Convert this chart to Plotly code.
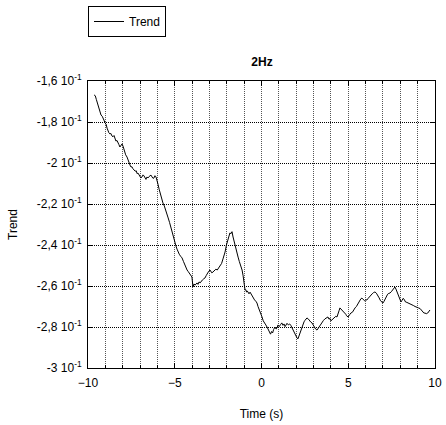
import plotly.graph_objects as go

time_s = [-9.65, -9.58, -9.52, -9.48, -9.42, -9.35, -9.30, -9.25, -9.18, -9.12, -9.06, -9.02,
          -8.96, -8.90, -8.85, -8.80, -8.74, -8.68, -8.62, -8.56, -8.50, -8.45, -8.39, -8.33,
          -8.27, -8.22, -8.16, -8.10, -8.04, -7.98, -7.93, -7.88, -7.83, -7.75, -7.70, -7.64,
          -7.58, -7.52, -7.47, -7.41, -7.35, -7.28, -7.22, -7.17, -7.12, -7.06, -7.00, -6.95,
          -6.89, -6.83, -6.77, -6.71, -6.66, -6.60, -6.54, -6.48, -6.42, -6.37, -6.31, -6.25,
          -6.20, -6.14, -6.08, -6.02, -5.96, -5.90, -5.85, -5.78, -5.72, -5.68, -5.60, -5.52,
          -5.45, -5.38, -5.30, -5.22, -5.15, -5.06, -4.99, -4.93, -4.87, -4.81, -4.74, -4.66,
          -4.58, -4.50, -4.42, -4.35, -4.29, -4.22, -4.15, -4.08, -4.01, -3.95, -3.89, -3.83,
          -3.77, -3.72, -3.66, -3.60, -3.54, -3.47, -3.40, -3.33, -3.26, -3.18, -3.10, -3.04,
          -2.97, -2.91, -2.86, -2.80, -2.72, -2.63, -2.55, -2.47, -2.39, -2.30, -2.22, -2.15,
          -2.10, -2.02, -1.95, -1.88, -1.82, -1.76, -1.70, -1.64, -1.56, -1.48, -1.42, -1.35,
          -1.28, -1.20, -1.12, -1.06, -1.00, -0.95, -0.90, -0.86, -0.82, -0.78, -0.72, -0.66,
          -0.60, -0.55, -0.48, -0.40, -0.33, -0.26, -0.20, -0.12, -0.05, 0.03, 0.10, 0.18,
          0.25, 0.32, 0.38, 0.45, 0.52, 0.58, 0.64, 0.70, 0.78, 0.84, 0.90, 0.95,
          1.02, 1.10, 1.17, 1.24, 1.30, 1.36, 1.42, 1.47, 1.55, 1.62, 1.69, 1.76,
          1.84, 1.92, 1.98, 2.05, 2.10, 2.14, 2.18, 2.22, 2.26, 2.30, 2.35, 2.39,
          2.45, 2.50, 2.56, 2.62, 2.69, 2.76, 2.84, 2.91, 2.98, 3.05, 3.12, 3.20,
          3.27, 3.35, 3.42, 3.49, 3.57, 3.66, 3.74, 3.83, 3.89, 3.95, 4.00, 4.06,
          4.13, 4.20, 4.28, 4.35, 4.40, 4.44, 4.48, 4.52, 4.58, 4.66, 4.73, 4.81,
          4.86, 4.90, 4.95, 4.99, 5.08, 5.15, 5.24, 5.32, 5.39, 5.47, 5.53, 5.58,
          5.66, 5.73, 5.79, 5.86, 5.94, 6.01, 6.08, 6.15, 6.22, 6.30, 6.38, 6.46,
          6.54, 6.62, 6.70, 6.78, 6.86, 6.93, 7.00, 7.06, 7.13, 7.20, 7.27, 7.34,
          7.41, 7.48, 7.55, 7.62, 7.69, 7.75, 7.82, 7.90, 7.97, 8.04, 8.10, 8.17,
          8.24, 8.30, 8.38, 8.47, 8.56, 8.65, 8.75, 8.85, 8.95, 9.05, 9.14, 9.22,
          9.30, 9.36, 9.42, 9.50, 9.58, 9.64, 9.71]

trend = [-0.1668, -0.1672, -0.1690, -0.1702, -0.1712, -0.1728, -0.1745, -0.1766, -0.1772, -0.1790, -0.1795, -0.1805,
         -0.1810, -0.1830, -0.1849, -0.1852, -0.1858, -0.1856, -0.1868, -0.1872, -0.1866, -0.1880, -0.1893, -0.1890,
         -0.1898, -0.1910, -0.1922, -0.1912, -0.1907, -0.1918, -0.1937, -0.1945, -0.1960, -0.1971, -0.1985, -0.1995,
         -0.2010, -0.2020, -0.2018, -0.2028, -0.2034, -0.2040, -0.2038, -0.2052, -0.2049, -0.2058, -0.2062, -0.2073,
         -0.2068, -0.2058, -0.2063, -0.2075, -0.2080, -0.2068, -0.2073, -0.2066, -0.2060, -0.2059, -0.2068, -0.2075,
         -0.2073, -0.2062, -0.2068, -0.2083, -0.2105, -0.2128, -0.2146, -0.2160, -0.2180, -0.2195, -0.2210, -0.2228,
         -0.2244, -0.2268, -0.2290, -0.2317, -0.2330, -0.2365, -0.2390, -0.2405, -0.2420, -0.2434, -0.2445, -0.2455,
         -0.2463, -0.2480, -0.2498, -0.2510, -0.2522, -0.2530, -0.2540, -0.2552, -0.2556, -0.2605, -0.2590, -0.2596,
         -0.2588, -0.2585, -0.2592, -0.2580, -0.2585, -0.2575, -0.2570, -0.2565, -0.2561, -0.2548, -0.2535, -0.2528,
         -0.2522, -0.2530, -0.2536, -0.2532, -0.2525, -0.2518, -0.2522, -0.2512, -0.2507, -0.2490, -0.2468, -0.2450,
         -0.2434, -0.2400, -0.2375, -0.2352, -0.2341, -0.2345, -0.2335, -0.2361, -0.2392, -0.2425, -0.2445, -0.2459,
         -0.2480, -0.2500, -0.2522, -0.2550, -0.2585, -0.2620, -0.2618, -0.2630, -0.2624, -0.2634, -0.2638, -0.2630,
         -0.2640, -0.2644, -0.2655, -0.2668, -0.2674, -0.2683, -0.2700, -0.2715, -0.2735, -0.2751, -0.2770, -0.2778,
         -0.2790, -0.2800, -0.2812, -0.2818, -0.2835, -0.2822, -0.2829, -0.2812, -0.2800, -0.2810, -0.2805, -0.2790,
         -0.2798, -0.2788, -0.2780, -0.2792, -0.2785, -0.2798, -0.2790, -0.2782, -0.2790, -0.2785, -0.2792, -0.2805,
         -0.2818, -0.2830, -0.2842, -0.2854, -0.2858, -0.2848, -0.2839, -0.2830, -0.2815, -0.2805, -0.2790, -0.2780,
         -0.2775, -0.2768, -0.2760, -0.2756, -0.2760, -0.2770, -0.2776, -0.2780, -0.2792, -0.2802, -0.2810, -0.2815,
         -0.2806, -0.2795, -0.2784, -0.2776, -0.2768, -0.2760, -0.2756, -0.2751, -0.2762, -0.2758, -0.2770, -0.2766,
         -0.2760, -0.2756, -0.2748, -0.2751, -0.2740, -0.2735, -0.2718, -0.2707, -0.2712, -0.2722, -0.2728, -0.2732,
         -0.2738, -0.2745, -0.2748, -0.2751, -0.2740, -0.2732, -0.2728, -0.2715, -0.2707, -0.2700, -0.2690, -0.2685,
         -0.2672, -0.2662, -0.2659, -0.2665, -0.2672, -0.2668, -0.2668, -0.2660, -0.2652, -0.2645, -0.2638, -0.2632,
         -0.2629, -0.2635, -0.2645, -0.2658, -0.2672, -0.2680, -0.2683, -0.2675, -0.2662, -0.2650, -0.2640, -0.2636,
         -0.2634, -0.2628, -0.2620, -0.2612, -0.2605, -0.2615, -0.2630, -0.2650, -0.2665, -0.2678, -0.2670, -0.2660,
         -0.2668, -0.2678, -0.2680, -0.2683, -0.2685, -0.2690, -0.2695, -0.2700, -0.2705, -0.2707, -0.2710, -0.2720,
         -0.2730, -0.2732, -0.2732, -0.2735, -0.2732, -0.2725, -0.2717]

y_tickvals = [-0.16, -0.18, -0.20, -0.22, -0.24, -0.26, -0.28, -0.30]
y_ticktext = ["-1,6 10<sup>-1</sup>", "-1,8 10<sup>-1</sup>", "-2 10<sup>-1</sup>", "-2,2 10<sup>-1</sup>",
              "-2,4 10<sup>-1</sup>", "-2,6 10<sup>-1</sup>", "-2,8 10<sup>-1</sup>", "-3 10<sup>-1</sup>"]

fig = go.Figure()
fig.add_trace(go.Scatter(x=time_s, y=trend, mode="lines", name="Trend",
                         line=dict(color="black", width=1)))

font = "Liberation Sans, Arial, sans-serif"
fig.update_layout(
    width=446, height=425,
    margin=dict(l=88, r=11, t=81, b=57, autoexpand=False),
    paper_bgcolor="white", plot_bgcolor="white",
    font=dict(family=font, size=12, color="black"),
    title=dict(text="<b>2Hz</b>", x=262 / 446, xanchor="center", xref="container",
               y=1 - 62 / 425, yanchor="middle", yref="container",
               font=dict(size=12, family=font, color="black")),
    showlegend=True,
    legend=dict(x=0.0, y=1 + 75 / 287, xanchor="left", yanchor="top",
                bordercolor="black", borderwidth=1, bgcolor="white",
                font=dict(size=12, color="black"), itemwidth=30),
)
fig.update_xaxes(
    range=[-10, 10], tickmode="array", tickvals=[-10, -5, 0, 5, 10],
    ticks="inside", ticklen=5, tickcolor="black",
    tickfont=dict(color="black", size=12), ticklabelstandoff=4,
    showline=True, linecolor="black", linewidth=1, mirror="ticks",
    showgrid=True, gridcolor="#555", griddash="1px,1px", gridwidth=1,
    zeroline=False,
    minor=dict(dtick=1, tick0=0, showgrid=True, gridcolor="#555", griddash="1px,1px",
               ticks="inside", ticklen=3, tickcolor="black"),
    title=dict(text="Time (s)", font=dict(size=12, color="black"), standoff=20),
)
fig.update_yaxes(
    range=[-0.30, -0.16], tickmode="array", tickvals=y_tickvals, ticktext=y_ticktext,
    ticks="inside", ticklen=5, tickcolor="black",
    tickfont=dict(color="black", size=12), ticklabelstandoff=3,
    showline=True, linecolor="black", linewidth=1, mirror="ticks",
    showgrid=True, gridcolor="black", griddash="1px,1px", gridwidth=1,
    zeroline=False,
    title=dict(text="Trend", font=dict(size=12, color="black"), standoff=16),
)

fig.write_html("out.html")
